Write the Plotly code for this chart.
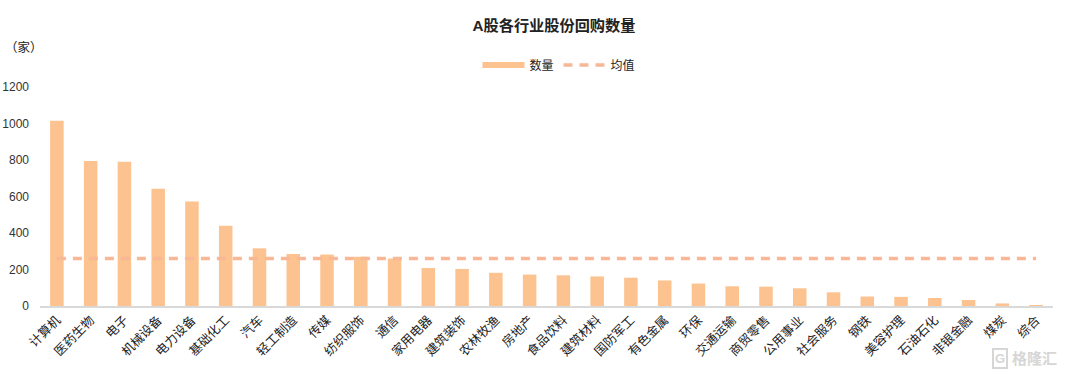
import plotly.graph_objects as go

categories = ["计算机", "医药生物", "电子", "机械设备", "电力设备", "基础化工", "汽车", "轻工制造", "传媒", "纺织服饰",
              "通信", "家用电器", "建筑装饰", "农林牧渔", "房地产", "食品饮料", "建筑材料", "国防军工", "有色金属", "环保",
              "交通运输", "商贸零售", "公用事业", "社会服务", "钢铁", "美容护理", "石油石化", "非银金融", "煤炭", "综合"]
counts = [1015, 795, 790, 642, 572, 440, 316, 285, 282, 270,
          260, 208, 203, 182, 172, 168, 162, 155, 140, 123,
          108, 106, 97, 75, 52, 50, 44, 33, 14, 5]
mean_values = [260] * 30
y_ticks = [0, 200, 400, 600, 800, 1000, 1200]

FONT = "Liberation Sans, Arial, Noto Sans CJK SC, sans-serif"
BAR = "#FCC28F"
LINE = "#F8B795"

fig = go.Figure()
fig.add_trace(go.Bar(x=categories, y=counts, marker=dict(color=BAR, line=dict(width=0)), showlegend=False, name="数量"))
fig.add_trace(go.Scatter(x=[categories[0]], y=[None], mode="lines", name="数量",
                         line=dict(color=BAR, width=6)))
fig.add_trace(go.Scatter(x=categories, y=mean_values, mode="lines", name="均值",
                         line=dict(color=LINE, width=3.5, dash="9px,7px")))

L, R, T, B = 40, 27, 87, 69
PW, PH = 1080 - L - R, 375 - T - B
fig.update_layout(
    width=1080, height=375,
    margin=dict(l=L, r=R, t=T, b=B, autoexpand=False),
    paper_bgcolor="white", plot_bgcolor="white",
    font=dict(family=FONT, size=12.5, color="#222222"),
    bargap=0.6,
    showlegend=True,
    legend=dict(orientation="h", x=559/1080, xref="container", xanchor="center", y=1-65/375, yref="container",
                yanchor="middle", itemwidth=42, font=dict(size=12), traceorder="normal"),
    title=dict(text="<b>A股各行业股份回购数量</b>", x=554/1080, xanchor="center", y=1-26/375, yanchor="middle",
               font=dict(size=15.2, color="#222222")),
    xaxis=dict(type="category", categoryorder="array", categoryarray=categories, tickangle=-45,
               showgrid=False, showline=True, linecolor="#D9D9D9", linewidth=1.5, ticks="",
               tickfont=dict(size=12.6, color="#222222")),
    yaxis=dict(range=[0, 1200], tickvals=y_ticks, showgrid=False, zeroline=False, showline=False, ticks="",
               ticklabelstandoff=10, tickfont=dict(size=12, color="#333333")),
)
fig.layout.annotations = [
    go.layout.Annotation(text="（家）", xref="paper", yref="paper", x=(24-L)/PW, y=(375-B-47)/PH,
                         xanchor="center", yanchor="middle", showarrow=False, font=dict(size=12.5)),
    go.layout.Annotation(text="<b>格隆汇</b>", xref="paper", yref="paper", x=(1034-L)/PW, y=(375-B-358)/PH,
                         xanchor="center", yanchor="middle", showarrow=False,
                         font=dict(size=15, color="#D6D6D6")),
    go.layout.Annotation(text="<b>G</b>", xref="paper", yref="paper", x=(1000-L)/PW, y=(375-B-358)/PH,
                         xanchor="center", yanchor="middle", showarrow=False, bordercolor="#D6D6D6", borderwidth=2,
                         borderpad=1, font=dict(size=13, color="#D6D6D6")),
]
fig.write_html("out.html", config={"displayModeBar": False},
               post_script="document.body.style.margin='0';document.body.style.overflow='hidden';")
